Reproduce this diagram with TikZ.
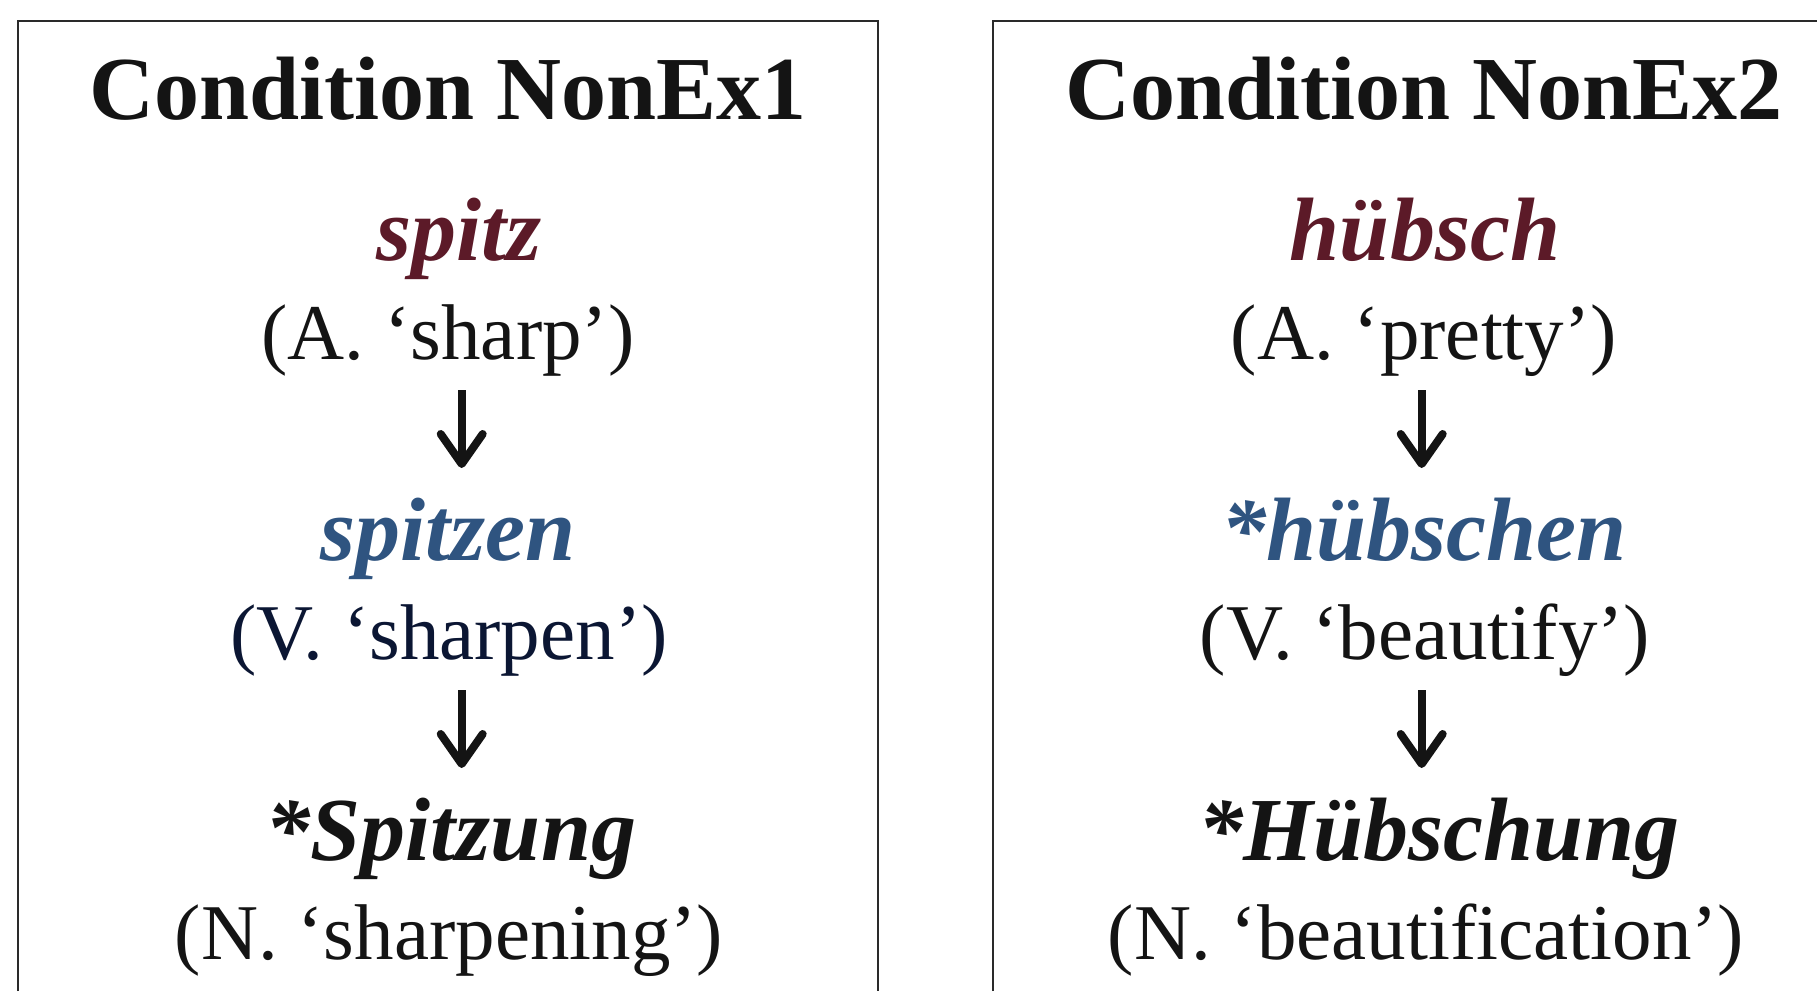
\documentclass[tikz,border=0pt]{standalone}
\usepackage{fontspec}
\setmainfont{Liberation Serif}
\usetikzlibrary{arrows.meta}

\definecolor{ink}{HTML}{141414}
\definecolor{frame}{HTML}{2A2A2A}
\definecolor{adjred}{HTML}{5C1A28}
\definecolor{verbblue}{HTML}{2F5480}
\definecolor{navy}{HTML}{0B1633}

\tikzset{
  heading/.style={anchor=base, inner sep=0pt, text=ink,
    font=\fontsize{90}{100}\selectfont\bfseries},
  lemma/.style={anchor=base, inner sep=0pt,
    font=\fontsize{90}{100}\selectfont\bfseries\itshape},
  gloss/.style={anchor=base, inner sep=0pt, text=ink,
    font=\fontsize{79}{90}\selectfont},
  derive/.style={draw=ink, line width=8pt,
    -{Straight Barb[length=30pt, width=42pt, round]}},
  panel/.style={draw=frame, line width=2pt},
}

\begin{document}
\begin{tikzpicture}[x=1pt, y=-1pt]
\useasboundingbox (0,0) rectangle (1817,991);

% panel frames (open at the bottom, the right one runs off the page)
\draw[panel] (17.5,991) -- (17.5,21) -- (877.7,21) -- (877.7,991);
\draw[panel] (993.3,991) -- (993.3,21) -- (1817,21);

% ---------- left panel ----------
\node[heading] (h1) at (448,119) {Condition NonEx1};
\node[lemma, text=adjred] (a1) at (459,260) {spitz};
\node[gloss] (ga1) at (448,359) {(A. ‘sharp’)};
\node[lemma, text=verbblue] (v1) at (448,560) {spitzen};
\node[gloss, text=navy] (gv1) at (449,659) {(V. ‘sharpen’)};
\node[lemma, text=ink] (n1) at (451,860) {*Spitzung};
\node[gloss] (gn1) at (449,959) {(N. ‘sharpening’)};

\coordinate (s11) at (461.7,390);
\coordinate (e11) at (461.7,468);
\coordinate (s12) at (461.7,690);
\coordinate (e12) at (461.7,768);
\draw[derive] (s11) -- (e11);
\draw[derive] (s12) -- (e12);

% ---------- right panel ----------
\node[heading] (h2) at (1424,119) {Condition NonEx2};
\node[lemma, text=adjred] (a2) at (1425,260) {hübsch};
\node[gloss] (ga2) at (1424,359) {(A. ‘pretty’)};
\node[lemma, text=verbblue] (v2) at (1424,560) {*hübschen};
\node[gloss] (gv2) at (1425,659) {(V. ‘beautify’)};
\node[lemma, text=ink] (n2) at (1439,860) {*Hübschung};
\node[gloss] (gn2) at (1426,959) {(N. ‘beautification’)};

\coordinate (s21) at (1421.7,390);
\coordinate (e21) at (1421.7,468);
\coordinate (s22) at (1421.7,690);
\coordinate (e22) at (1421.7,768);
\draw[derive] (s21) -- (e21);
\draw[derive] (s22) -- (e22);
\end{tikzpicture}
\end{document}
